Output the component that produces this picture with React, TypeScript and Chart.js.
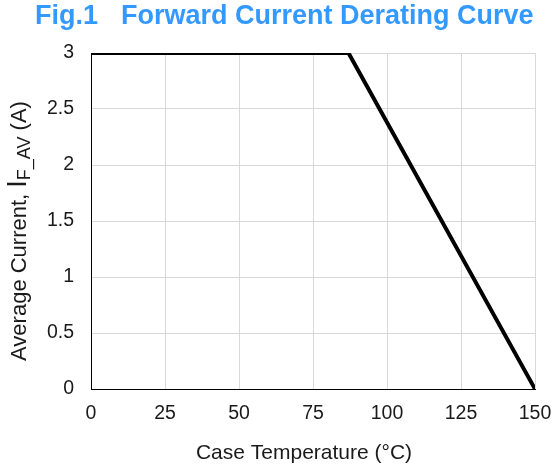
import React, { useEffect, useRef } from "react";
import { Chart, registerables } from "chart.js";

Chart.register(...registerables);

const temperature = [0, 87, 150];
const current = [3, 3, 0];
const xTicks = [0, 25, 50, 75, 100, 125, 150];
const yTicks = [0, 0.5, 1, 1.5, 2, 2.5, 3];
const titleLeft = "Fig.1";
const titleRight = "Forward Current Derating Curve";
const xTitle = "Case Temperature (°C)";
const yTitleMain = "Average Current, I";
const yTitleSub = "F_AV";
const yTitleEnd = " (A)";

const FONT = "'Liberation Sans', Arial, sans-serif";

const labelsPlugin = {
  id: "customLabels",
  afterDraw(chart: any) {
    const ctx = chart.ctx as CanvasRenderingContext2D;
    ctx.save();
    // main title
    ctx.fillStyle = "#3399ff";
    ctx.font = `bold 27px ${FONT}`;
    ctx.textAlign = "left";
    ctx.textBaseline = "middle";
    ctx.fillText(titleLeft, 35, 17);
    ctx.fillText(titleRight, 121, 17);
    // x title
    ctx.fillStyle = "#1a1a1a";
    ctx.font = `21px ${FONT}`;
    ctx.textAlign = "center";
    ctx.fillText(xTitle, 304, 453);
    // y title rotated with subscript
    ctx.translate(20, 231);
    ctx.rotate(-Math.PI / 2);
    ctx.textAlign = "left";
    ctx.textBaseline = "middle";
    const mainFont = `22px ${FONT}`;
    const bigI = `27px ${FONT}`;
    const subFont = `18px ${FONT}`;
    const head = yTitleMain.slice(0, -1);
    const iChar = yTitleMain.slice(-1);
    ctx.font = mainFont;
    const w1 = ctx.measureText(head).width;
    const w3 = ctx.measureText(yTitleEnd).width;
    ctx.font = bigI;
    const wI = ctx.measureText(iChar).width;
    ctx.font = subFont;
    const w2 = ctx.measureText(yTitleSub).width;
    const total = w1 + wI + w2 + w3;
    let x = -total / 2;
    ctx.font = mainFont;
    ctx.fillText(head, x, 0);
    x += w1;
    ctx.font = bigI;
    ctx.fillText(iChar, x, -1);
    x += wI;
    ctx.font = subFont;
    ctx.fillText(yTitleSub, x, 5);
    x += w2;
    ctx.font = mainFont;
    ctx.fillText(yTitleEnd, x, 0);
    ctx.restore();
  },
};

export default function App() {
  const ref = useRef<HTMLCanvasElement | null>(null);
  useEffect(() => {
    if (!ref.current) return;
    const chart = new Chart(ref.current, {
      type: "scatter",
      data: {
        datasets: [
          {
            data: temperature.map((t, i) => ({ x: t, y: current[i] })),
            showLine: true,
            borderColor: "#000",
            borderWidth: 4,
            pointRadius: 0,
            fill: false,
            tension: 0,
          },
        ],
      },
      options: {
        animation: false,
        responsive: false,
        devicePixelRatio: 1,
        layout: { padding: { left: 0, right: 20, top: 53, bottom: 0 } },
        plugins: { legend: { display: false }, tooltip: { enabled: false }, title: { display: false } },
        scales: {
          x: {
            type: "linear",
            min: 0,
            max: 150,
            afterBuildTicks: (s: any) => {
              s.ticks = xTicks.map((v) => ({ value: v }));
            },
            afterFit: (s: any) => {
              s.height = 82;
              s.paddingLeft = 0;
              s.paddingRight = 0;
            },
            grid: { color: "#d9d9d9", drawTicks: false, lineWidth: 1 },
            border: { color: "#000", width: 1 },
            ticks: {
              color: "#1a1a1a",
              font: { family: FONT, size: 19.5 },
              padding: 13,
              maxRotation: 0,
              callback: (v: any) => String(v),
            },
          },
          y: {
            type: "linear",
            min: 0,
            max: 3,
            afterBuildTicks: (s: any) => {
              s.ticks = yTicks.map((v) => ({ value: v }));
            },
            afterFit: (s: any) => {
              s.width = 91;
              s.paddingTop = 0;
              s.paddingBottom = 0;
            },
            grid: { color: "#d9d9d9", drawTicks: false, lineWidth: 1 },
            border: { color: "#000", width: 1 },
            ticks: {
              color: "#1a1a1a",
              font: { family: FONT, size: 19.5 },
              padding: 17,
              callback: (v: any) => String(v),
            },
          },
        },
      },
      plugins: [labelsPlugin],
    } as any);
    return () => chart.destroy();
  }, []);
  return (
    <div style={{ position: "absolute", left: 0, top: 0, width: 555, height: 471, background: "#fff" }}>
      <canvas ref={ref} width={555} height={471} style={{ width: 555, height: 471 }} />
    </div>
  );
}
